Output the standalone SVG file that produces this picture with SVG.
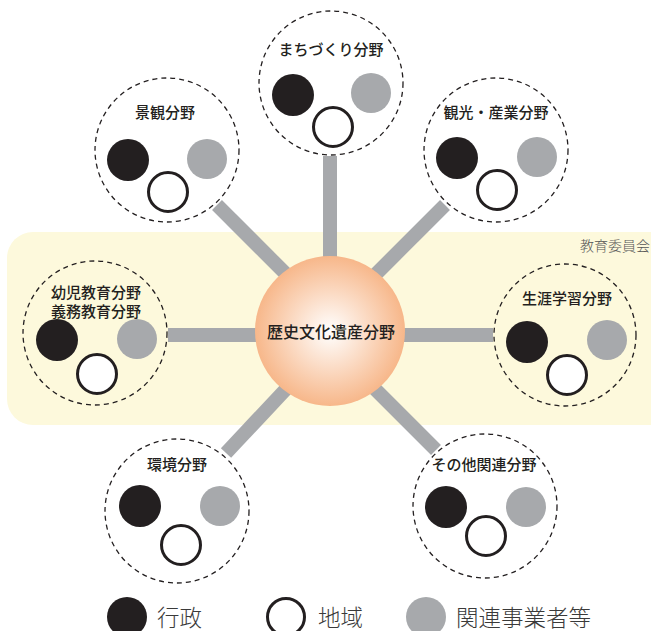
<svg xmlns="http://www.w3.org/2000/svg" width="651" height="631" viewBox="0 0 651 631">
<style>
.dash{fill:none;stroke:#231f20;stroke-width:1.3;stroke-dasharray:5 4}
.blk{fill:#231f20}
.gry{fill:#a7a9ac}
.wht{fill:#fff;stroke:#231f20;stroke-width:3}
.ttl{font-family:"Noto Sans CJK JP","Noto Sans",sans-serif;font-size:15px;font-weight:500;fill:#231f20;text-anchor:middle}
.leg{font-family:"Noto Sans CJK JP","Noto Sans",sans-serif;font-size:22.5px;font-weight:300;fill:#3a3a3a}
.con{stroke:#a7a9ac;stroke-width:14;fill:none}
</style>
<defs>
<radialGradient id="cg" cx="0.5" cy="0.5" r="0.5">
<stop offset="0" stop-color="#ffffff"/>
<stop offset="1" stop-color="#f7b78a"/>
</radialGradient>
</defs>
<rect id="band" x="7" y="232" width="670" height="193" rx="26" fill="#fdf9dc"/>
<text x="650" y="251" font-family="Noto Sans CJK JP,sans-serif" font-size="14" font-weight="300" fill="#555" text-anchor="end">教育委員会</text>
<g id="connectors">
<line class="con" x1="330" y1="156" x2="330" y2="260"/>
<line class="con" x1="217" y1="205" x2="288" y2="276"/>
<line class="con" x1="445" y1="205" x2="373" y2="277"/>
<line class="con" x1="168" y1="335" x2="260" y2="335"/>
<line class="con" x1="400" y1="335" x2="493" y2="335"/>
<line class="con" x1="287" y1="388" x2="226" y2="453"/>
<line class="con" x1="374" y1="388" x2="436" y2="450"/>
</g>
<g id="center">
<circle cx="330" cy="331" r="75" fill="url(#cg)"/>
<text class="ttl" x="331" y="338" style="font-size:16px">歴史文化遺産分野</text>
</g>
<g id="machi">
<circle class="dash" cx="331" cy="83" r="72"/>
<text class="ttl" x="331" y="55">まちづくり分野</text>
<circle class="blk" cx="293" cy="95" r="21"/>
<circle class="gry" cx="371" cy="93" r="20"/>
<circle class="wht" cx="333" cy="127" r="19.5"/>
</g>
<g id="keikan">
<circle class="dash" cx="167" cy="150" r="72"/>
<text class="ttl" x="165" y="118">景観分野</text>
<circle class="blk" cx="128" cy="160" r="21"/>
<circle class="gry" cx="207" cy="159" r="20"/>
<circle class="wht" cx="168" cy="192" r="19.5"/>
</g>
<g id="kanko">
<circle class="dash" cx="496" cy="150" r="72"/>
<text class="ttl" x="496" y="118">観光・産業分野</text>
<circle class="blk" cx="457" cy="158" r="21"/>
<circle class="gry" cx="537" cy="157" r="20"/>
<circle class="wht" cx="497" cy="190" r="19.5"/>
</g>
<g id="youji">
<circle class="dash" cx="95" cy="333" r="72"/>
<text class="ttl" x="96" y="298">幼児教育分野</text>
<text class="ttl" x="96" y="317">義務教育分野</text>
<circle class="blk" cx="57" cy="340" r="21"/>
<circle class="gry" cx="137" cy="339" r="20"/>
<circle class="wht" cx="97" cy="374" r="19.5"/>
</g>
<g id="shogai">
<circle class="dash" cx="565" cy="335" r="71"/>
<text class="ttl" x="567" y="304">生涯学習分野</text>
<circle class="blk" cx="527" cy="342" r="21"/>
<circle class="gry" cx="607" cy="340" r="20"/>
<circle class="wht" cx="567" cy="375" r="19.5"/>
</g>
<g id="kankyo">
<circle class="dash" cx="177" cy="511" r="72"/>
<text class="ttl" x="177" y="470">環境分野</text>
<circle class="blk" cx="140" cy="506" r="21"/>
<circle class="gry" cx="220" cy="506" r="20"/>
<circle class="wht" cx="181" cy="545" r="19.5"/>
</g>
<g id="sonota">
<circle class="dash" cx="485" cy="506" r="72"/>
<text class="ttl" x="484" y="470">その他関連分野</text>
<circle class="blk" cx="446" cy="507" r="21"/>
<circle class="gry" cx="526" cy="507" r="20"/>
<circle class="wht" cx="486" cy="536" r="19.5"/>
</g>
<g id="legend">
<circle class="blk" cx="127" cy="617" r="20"/>
<text class="leg" x="157" y="626">行政</text>
<circle class="wht" cx="286" cy="617" r="18.5"/>
<text class="leg" x="318" y="626">地域</text>
<circle class="gry" cx="426" cy="617" r="20"/>
<text class="leg" x="456" y="626">関連事業者等</text>
</g>
</svg>
